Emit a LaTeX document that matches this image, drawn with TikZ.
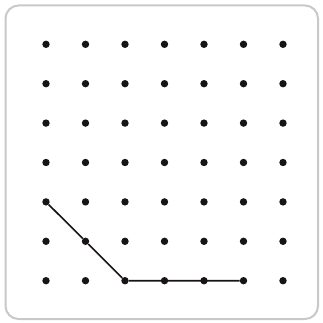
\documentclass[tikz,border=0pt]{standalone}
\usepackage{tikz}
\definecolor{framegray}{RGB}{200, 200, 200}
\definecolor{dotblack}{RGB}{25, 20, 20}

\tikzset{
    pin/.style={circle, fill=dotblack, inner sep=0pt, minimum size=7.4pt},
    band/.style={line width=1.6pt, draw=dotblack}
}

\begin{document}
\begin{tikzpicture}[x=1pt, y=-1pt]
        \useasboundingbox (0,0) rectangle (322,323);
        \draw[line width=2pt, draw=framegray, rounded corners=13pt] (5.5,5.5) rectangle (318,319);

        % geoboard pins
        \foreach \i in {0,...,6} {
            \foreach \j in {0,...,6} {
                \node[pin] (p\i\j) at (46+39.5*\i, 44.3+39.4*\j) {};
            }
        }

        \draw[band] (p04) -- (p15) -- (p26) -- (p56);
    \end{tikzpicture}
\end{document}
